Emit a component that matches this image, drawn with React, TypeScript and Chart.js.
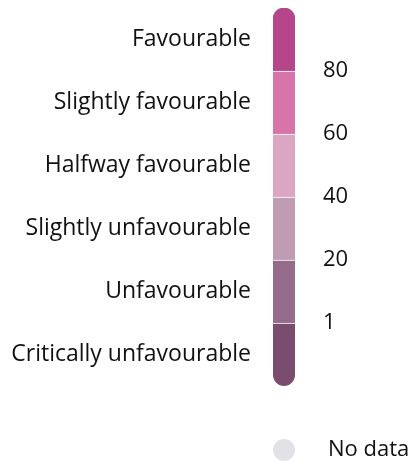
import React, { useEffect, useRef } from "react";
import { Chart, registerables } from "chart.js";

Chart.register(...registerables);

// Bands from bottom to top
const bandLabels = [
  "Critically unfavourable",
  "Unfavourable",
  "Slightly unfavourable",
  "Halfway favourable",
  "Slightly favourable",
  "Favourable",
];
const bandColors = ["#7a4c6e", "#956b8c", "#bf9cb4", "#dba6c3", "#d774a8", "#b5468a"];
const boundaryValues = [1, 2, 3, 4, 5];
const boundaryLabels = ["1", "20", "40", "60", "80"];
const noDataLabel = "No data";
const noDataColor = "#e3e1e8";

const FONT = "'Open Sans', 'Noto Sans', sans-serif";

export default function App() {
  const ref = useRef<HTMLCanvasElement | null>(null);

  useEffect(() => {
    if (!ref.current) return;
    const n = bandLabels.length;
    const datasets = bandLabels.map((lbl, i) => ({
      label: lbl,
      data: [[i, i + 1]] as any,
      backgroundColor: bandColors[i],
      borderColor: "#ffffff",
      borderWidth: i === n - 1 ? 0 : { top: 1, bottom: 0, left: 0, right: 0 },
      borderSkipped: false as any,
      borderRadius:
        i === n - 1
          ? { topLeft: 11, topRight: 11, bottomLeft: 0, bottomRight: 0 }
          : i === 0
          ? { topLeft: 0, topRight: 0, bottomLeft: 11, bottomRight: 11 }
          : 0,
      grouped: false,
      barPercentage: 1,
      categoryPercentage: 1,
      yAxisID: "y",
    }));

    const noDataPlugin = {
      id: "noData",
      afterDraw(chart: any) {
        const ctx = chart.ctx;
        const area = chart.chartArea;
        const cx = (area.left + area.right) / 2;
        const cy = area.bottom + 64;
        ctx.save();
        ctx.beginPath();
        ctx.arc(cx, cy, 11, 0, Math.PI * 2);
        ctx.fillStyle = noDataColor;
        ctx.fill();
        ctx.fillStyle = "#111111";
        ctx.font = `22px ${FONT}`;
        ctx.textBaseline = "middle";
        ctx.textAlign = "left";
        ctx.fillText(noDataLabel, area.right + 33, cy);
        ctx.restore();
      },
    };

    const noEdgePadding = (scale: any) => {
      scale.paddingTop = 0;
      scale.paddingBottom = 0;
    };

    const chart = new Chart(ref.current, {
      type: "bar",
      data: { labels: [""], datasets },
      options: {
        animation: false,
        responsive: false,
        maintainAspectRatio: false,
        layout: { padding: { top: 8, bottom: 78, left: 0, right: 0 } },
        plugins: { legend: { display: false }, tooltip: { enabled: false } },
        scales: {
          x: { display: false },
          y: {
            position: "left",
            min: 0,
            max: n,
            grid: { display: false, drawTicks: false },
            border: { display: false },
            afterBuildTicks: (scale: any) => {
              scale.ticks = bandLabels.map((_, i) => ({ value: i + 0.5 }));
            },
            afterFit: (scale: any) => {
              scale.width = 273;
              noEdgePadding(scale);
            },
            ticks: {
              autoSkip: false,
              padding: 22,
              color: "#111111",
              font: { family: FONT, size: 23 },
              callback: (v: any) => bandLabels[Math.round(Number(v) - 0.5)],
            },
          },
          y2: {
            position: "right",
            min: 0,
            max: n,
            grid: { display: false, drawTicks: false },
            border: { display: false },
            afterBuildTicks: (scale: any) => {
              scale.ticks = boundaryValues.map((v) => ({ value: v }));
            },
            afterFit: (scale: any) => {
              scale.width = 122;
              noEdgePadding(scale);
            },
            ticks: {
              autoSkip: false,
              padding: 28,
              color: "#111111",
              font: { family: FONT, size: 22 },
              callback: (v: any) => boundaryLabels[boundaryValues.indexOf(Number(v))],
            },
          },
        },
      },
      plugins: [noDataPlugin],
    });
    return () => chart.destroy();
  }, []);

  return (
    <div style={{ position: "fixed", left: 0, top: 0, width: 417, height: 464, background: "#fff" }}>
      <canvas ref={ref} width={417} height={464} style={{ display: "block" }} />
    </div>
  );
}
